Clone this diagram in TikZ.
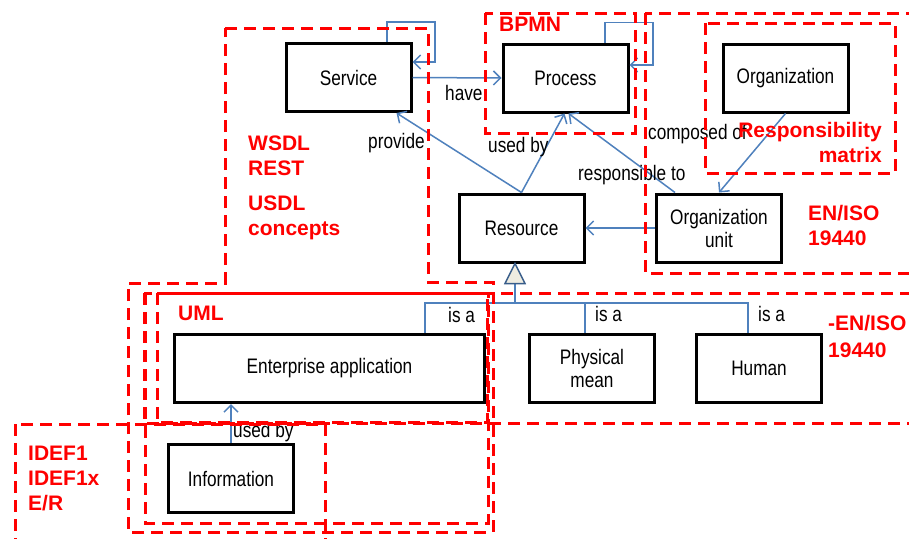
\documentclass[tikz,border=0pt]{standalone}
\usepackage{fontspec}
\setmainfont{Liberation Sans}
\newfontfamily\narrowfont{Liberation Sans}[FakeStretch=0.82]
\usetikzlibrary{arrows.meta,calc}
\definecolor{conblue}{RGB}{79,129,189}
\definecolor{tridraw}{RGB}{56,93,138}
\definecolor{trifill}{RGB}{238,236,225}
\begin{document}
\begin{tikzpicture}[x=1pt,y=-1pt,
  box/.style={draw=black,line width=3pt,fill=white,inner sep=0pt,
    minimum width=125pt,minimum height=68pt,align=center,
    font=\narrowfont\fontsize{21}{23}\selectfont},
  conn/.style={draw=conblue,line width=1.5pt},
  arr/.style={conn,-{Straight Barb[length=7pt,width=14pt]}},
  region/.style={draw=red,line width=3pt,dash pattern=on 12pt off 7pt},
  redlbl/.style={text=red,inner sep=0pt,anchor=base west,
    font=\fontsize{21}{25}\selectfont\bfseries},
  redlblr/.style={redlbl,anchor=base east},
  lbl/.style={inner sep=0pt,anchor=base west,
    font=\narrowfont\fontsize{21}{23}\selectfont}
]
\clip (0,0) rectangle (909,538);
\fill[white] (0,0) rectangle (909,538);

% nodes
\node[box] (svc)  at (348.5,77.5) {Service};
\node[box] (proc) at (565.5,78)   {Process};
\node[box] (org)  at (785.5,78)   {Organization};
\node[box] (res)  at (521.5,228)  {Resource};
\node[box] (ou)   at (719,228)    {Organization\\unit};
\node[box,minimum width=310pt] (ea) at (329.5,368.5) {Enterprise application};
\node[box] (info) at (231,478.5)  {Information};
\node[box] (pm)   at (592,368.5)  {Physical\\mean};
\node[box] (hum)  at (759,368.5)  {Human};

% connectors
\draw[arr] ([xshift=38.5pt]svc.north) -- ++(0,-20) -| (435,62) -- ([yshift=15.5pt]svc.east);
\draw[arr] (svc.east) -- (proc.west);
\draw[arr] ([xshift=39.5pt]proc.north) -- ++(0,-20) -| (653,65) -- ([yshift=13pt]proc.east);
\draw[arr] (res.north) -- ([xshift=-16pt]svc.south east);
\draw[arr] (res.north) -- ([xshift=-1pt]proc.south);
\draw[arr] ([xshift=-44pt]ou.north) -- ([xshift=3pt]proc.south);
\draw[arr] (org.south) -- (ou.north);
\draw[arr] (ou.west) -- (res.east);
\draw[arr] (info.north) -- (info.north |- ea.south);

% generalization
\coordinate (gbase) at ([xshift=-6.5pt,yshift=-20pt]res.south);
\coordinate (busmid) at (515,303);
\draw[conn] (gbase) -- (busmid);
\draw[conn] ([xshift=95.5pt]ea.north) |- (busmid) -| ([xshift=-11pt]hum.north);
\draw[conn] ([xshift=-7pt]pm.north) |- (busmid);
\draw[draw=tridraw,line width=1.5pt,fill=trifill,line join=miter]
  ([xshift=-6.5pt]res.south) -- ++(10,20) -- ++(-20,0) -- cycle;

% connector labels
\node[lbl] (lhave) at (445,100) {have};
\node[lbl] (lprov) at (368,148) {provide};
\node[lbl] (lused) at (488,152) {used by};
\node[lbl] (lresp) at (578,180) {responsible to};
\node[lbl] (lcomp) at (648,139) {composed of};
\node[lbl] (lisa1) at (448,322) {is a};
\node[lbl] (lisa2) at (595,321) {is a};
\node[lbl] (lisa3) at (758,321) {is a};
\node[lbl] (lused2) at (233,437) {used by};

% red regions
\draw[region] (225,28) -- (428,28) -- (428,282) -- (493,282) -- (493,532)
  -- (128,532) -- (128,283) -- (225,283) -- cycle;
\draw[region] (485,13) rectangle (635,133);
\draw[region] (645,13) rectangle (930,273);
\draw[region] (705,23) rectangle (895,173);
\draw[region] (157,293) rectangle (487,422);
\draw[region] (145,293) rectangle (488,523);
\draw[region] (144,293) rectangle (930,423);
\draw[region] (15,424) rectangle (325,560);

% red labels
\node[redlbl] (tw1) at (248,150) {WSDL};
\node[redlbl] (tw2) at (248,175) {REST};
\node[redlbl] (tw3) at (248,210) {USDL};
\node[redlbl] (tw4) at (248,235) {concepts};
\node[redlbl] (tbp) at (499,31) {BPMN};
\node[redlblr] (trm1) at (882,137) {Responsibility};
\node[redlblr] (trm2) at (882,162) {matrix};
\node[redlbl] (ten1) at (808,220) {EN/ISO};
\node[redlbl] (ten2) at (808,245) {19440};
\node[redlbl] (ten3) at (828,330) {-EN/ISO};
\node[redlbl] (ten4) at (828,357) {19440};
\node[redlbl] (tuml) at (178,320) {UML};
\node[redlbl] (tid1) at (28,460) {IDEF1};
\node[redlbl] (tid2) at (28,485) {IDEF1x};
\node[redlbl] (tid3) at (28,510) {E/R};
\end{tikzpicture}
\end{document}
